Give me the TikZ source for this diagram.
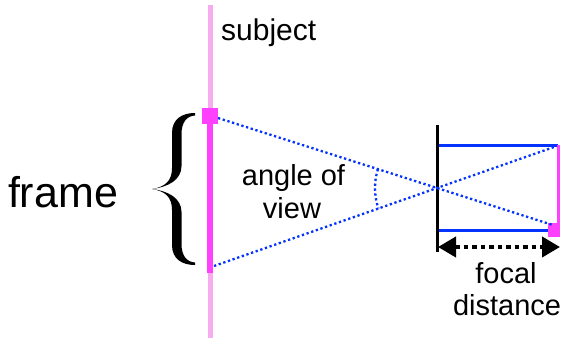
\documentclass[tikz,border=0pt]{standalone}
\usepackage{fontspec}
\setmainfont{Liberation Sans}
\usetikzlibrary{arrows.meta}
\definecolor{lpink}{RGB}{246,172,238}
\definecolor{mag}{RGB}{255,64,255}
\definecolor{ablue}{RGB}{4,51,255}
\tikzset{
  lbl/.style={inner sep=0pt, anchor=base, font=\fontsize{29bp}{33bp}\selectfont},
  dotline/.style={ablue, line width=2.3bp, dash pattern=on 2.3bp off 2.6bp},
  bluebar/.style={ablue, line width=3bp},
}
\begin{document}
\begin{tikzpicture}[x=1bp,y=1bp]
\useasboundingbox (0,0) rectangle (561,338);
% subject line
\coordinate (st) at (210,333);
\coordinate (sb) at (210,0);
\draw[lpink, line width=5bp] (st) -- (sb);
% frame
\coordinate (ft) at (210,222);
\coordinate (fb) at (210,65);
\draw[mag, line width=6bp] (ft) -- (fb);
\node[fill=mag, minimum width=16bp, minimum height=16bp, inner sep=0pt] (sq1) at (210,222) {};
% brace
\fill[black] (152,149) .. controls (165,151) and (172,157) .. (172,170) -- (172,205)
  .. controls (172,219) and (182,225) .. (195,225) -- (195,222.5)
  .. controls (187,222) and (181.5,216) .. (181.5,204) -- (181.5,172)
  .. controls (181.5,158) and (168,151) .. (152,149) -- cycle;
\fill[black] (152,149) .. controls (165,147) and (172,141) .. (172,128) -- (172,93)
  .. controls (172,79) and (182,73) .. (195,73) -- (195,75.5)
  .. controls (187,76) and (181.5,82) .. (181.5,94) -- (181.5,126)
  .. controls (181.5,140) and (168,147) .. (152,149) -- cycle;
% camera
\coordinate (lt) at (437,213);
\coordinate (lb) at (437,86);
\coordinate (c) at (437,150);
\coordinate (rt) at (558,193);
\coordinate (rb) at (558,108);
\coordinate (lrt) at (437,193);
\coordinate (lrb) at (437,108);
\draw[bluebar] (lrt) -- (rt);
\draw[bluebar] (lrb) -- (rb);
\draw[mag, line width=3bp] (rt) -- (rb);
\node[fill=mag, minimum width=12bp, minimum height=14bp, inner sep=0pt] (sq2) at (554,108) {};
\draw[black, line width=3bp] (lt) -- (lb);
% rays
\coordinate (a1) at (218,220);
\coordinate (b1) at (214,72);
\draw[dotline] (a1) -- (c) -- (554,112.6);
\draw[dotline] (b1) -- (c) -- (557,192);
\draw[dotline] (c) ++(162.3:62) arc[start angle=162.3, end angle=199.3, radius=62];
% focal distance arrow
\coordinate (fa) at (438,91);
\coordinate (fz) at (560,91);
\draw[black, line width=4bp, dash pattern=on 4.5bp off 4bp, {Triangle[length=18bp,width=20bp]}-{Triangle[length=18bp,width=20bp]}] (fa) -- (fz);
% texts
\node[lbl, anchor=base west, font=\fontsize{30bp}{34bp}\selectfont] (subj) at (221,298) {subject};
\node[lbl, font=\fontsize{43bp}{48bp}\selectfont] (frm) at (63,131) {frame};
\node[lbl] (ang1) at (293.5,153) {angle of};
\node[lbl] (ang2) at (292,120) {view};
\node[lbl] (foc1) at (506,55) {focal};
\node[lbl] (foc2) at (507,23) {distance};
\end{tikzpicture}
\end{document}
